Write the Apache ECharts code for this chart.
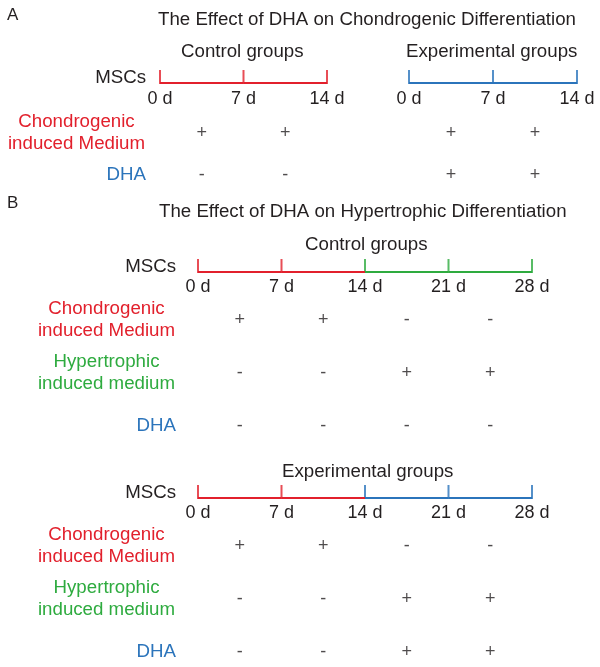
<!DOCTYPE html>
<html>
<head>
<meta charset="utf-8">
<script src="https://cdn.jsdelivr.net/npm/echarts@6/dist/echarts.min.js"></script>
<style>html,body{margin:0;padding:0;background:#fff}#chart{width:600px;height:667px}</style>
</head>
<body>
<div id="chart"></div>
<script>
// ---------- data ----------
const DAYS_A = [0, 7, 14];
const DAYS_B = [0, 7, 14, 21, 28];

// stage of each interval between ticks (drives the timeline colour)
const A_CTRL_STAGES = ['chondrogenic', 'chondrogenic'];
const A_EXP_STAGES = ['dha', 'dha'];
const B_CTRL_STAGES = ['chondrogenic', 'chondrogenic', 'hypertrophic', 'hypertrophic'];
const B_EXP_STAGES = ['chondrogenic', 'chondrogenic', 'dha', 'dha'];

const ROW_MSC = 'MSCs';
const ROW_CHONDRO = 'Chondrogenic induced Medium';
const ROW_HYPER = 'Hypertrophic induced medium';
const ROW_DHA = 'DHA';

const A_ROWS = [ROW_CHONDRO, ROW_DHA];
const B_ROWS = [ROW_CHONDRO, ROW_HYPER, ROW_DHA];

const A_CTRL_CHONDRO = ['+', '+'];
const A_CTRL_DHA = ['-', '-'];
const A_EXP_CHONDRO = ['+', '+'];
const A_EXP_DHA = ['+', '+'];

const B_CTRL_CHONDRO = ['+', '+', '-', '-'];
const B_CTRL_HYPER = ['-', '-', '+', '+'];
const B_CTRL_DHA = ['-', '-', '-', '-'];

const B_EXP_CHONDRO = ['+', '+', '-', '-'];
const B_EXP_HYPER = ['-', '-', '+', '+'];
const B_EXP_DHA = ['-', '-', '+', '+'];

const TITLE_A = 'The Effect of DHA on Chondrogenic Differentiation';
const TITLE_B = 'The Effect of DHA on Hypertrophic Differentiation';
const CONTROL = 'Control groups';
const EXPERIMENTAL = 'Experimental groups';

// ---------- styles ----------
const FONT = '"Liberation Sans", Arial, Helvetica, sans-serif';
const FS = 18.7;
const INK = '#231f20';
const STAGE_COLOR = { chondrogenic: '#e2202c', hypertrophic: '#2eab3f', dha: '#2b74bb' };

const blocks = [
  { left: 160, width: 167, lineY: 83, rowTop: 133, rowBottom: 175, margin: 14, tickMargin: 5,
    days: DAYS_A, stages: A_CTRL_STAGES, rows: A_ROWS, signs: [A_CTRL_CHONDRO, A_CTRL_DHA], labels: true },
  { left: 409, width: 168, lineY: 83, rowTop: 133, rowBottom: 175, margin: 14, tickMargin: 5,
    days: DAYS_A, stages: A_EXP_STAGES, rows: A_ROWS, signs: [A_EXP_CHONDRO, A_EXP_DHA], labels: false },
  { left: 198, width: 334, lineY: 272, rowTop: 320, rowBottom: 426, margin: 22, tickMargin: 4,
    days: DAYS_B, stages: B_CTRL_STAGES, rows: B_ROWS, signs: [B_CTRL_CHONDRO, B_CTRL_HYPER, B_CTRL_DHA], labels: true },
  { left: 198, width: 334, lineY: 498, rowTop: 546, rowBottom: 652, margin: 22, tickMargin: 4,
    days: DAYS_B, stages: B_EXP_STAGES, rows: B_ROWS, signs: [B_EXP_CHONDRO, B_EXP_HYPER, B_EXP_DHA], labels: true }
];

const rich = {
  msc: { color: INK, fontSize: FS, fontFamily: FONT, padding: [0, 0, 10, 0] },
  chondro: { color: STAGE_COLOR.chondrogenic, fontSize: FS, fontFamily: FONT, width: 139, align: 'center', lineHeight: 22 },
  hyper: { color: STAGE_COLOR.hypertrophic, fontSize: FS, fontFamily: FONT, width: 139, align: 'center', lineHeight: 22 },
  dha: { color: STAGE_COLOR.dha, fontSize: FS, fontFamily: FONT }
};
function rowLabel(v) {
  if (v === ROW_MSC) return '{msc|' + v + '}';
  if (v === ROW_CHONDRO) return '{chondro|Chondrogenic}\n{chondro|induced Medium}';
  if (v === ROW_HYPER) return '{hyper|Hypertrophic}\n{hyper|induced medium}';
  if (v === ROW_DHA) return '{dha|' + v + '}';
  return v;
}

const grid = [], xAxis = [], yAxis = [], series = [];
blocks.forEach((b) => {
  const last = b.days[b.days.length - 1];
  const gT = grid.length;
  // timeline grid
  grid.push({ left: b.left, width: b.width, top: b.lineY - 2, height: 4 });
  xAxis.push({ gridIndex: gT, type: 'value', min: b.days[0], max: last, interval: 7,
    axisLine: { show: false }, axisTick: { show: false }, splitLine: { show: false },
    axisLabel: { show: true, margin: b.tickMargin, color: INK, fontSize: 18, fontFamily: FONT,
      formatter: v => v + ' d' } });
  yAxis.push({ gridIndex: gT, type: 'category', data: [ROW_MSC], boundaryGap: true,
    axisLine: { show: false }, axisTick: { show: false }, splitLine: { show: false },
    axisLabel: { show: b.labels, margin: b.margin, formatter: rowLabel, rich: rich } });
  // timeline segments
  b.stages.forEach((st, i) => {
    series.push({ type: 'line', xAxisIndex: gT, yAxisIndex: gT, symbol: 'none', silent: true,
      lineStyle: { color: STAGE_COLOR[st], width: 2 },
      data: [[b.days[i], ROW_MSC], [b.days[i + 1], ROW_MSC]] });
  });
  // ticks
  series.push({ type: 'scatter', xAxisIndex: gT, yAxisIndex: gT, symbol: 'rect',
    symbolSize: [2, 14], symbolOffset: [0, -6], silent: true,
    data: b.days.map((d, j) => ({ value: [d, ROW_MSC],
      itemStyle: { color: STAGE_COLOR[b.stages[Math.min(j, b.stages.length - 1)]] } })) });

  // table grid
  const gR = grid.length;
  grid.push({ left: b.left, width: b.width, top: b.rowTop, height: b.rowBottom - b.rowTop });
  xAxis.push({ gridIndex: gR, type: 'value', min: b.days[0], max: last, show: false });
  yAxis.push({ gridIndex: gR, type: 'category', data: b.rows, inverse: true, boundaryGap: false,
    axisLine: { show: false }, axisTick: { show: false }, splitLine: { show: false },
    axisLabel: { show: b.labels, margin: b.margin, formatter: rowLabel, rich: rich, interval: 0 } });
  const pts = [];
  b.rows.forEach((r, ri) => {
    b.signs[ri].forEach((s, i) => {
      pts.push({ value: [(b.days[i] + b.days[i + 1]) / 2, r], sign: s });
    });
  });
  series.push({ type: 'scatter', xAxisIndex: gR, yAxisIndex: gR, symbolSize: 1, silent: true,
    itemStyle: { color: 'rgba(0,0,0,0)' },
    label: { show: true, position: 'inside', color: INK, fontSize: 18, fontFamily: FONT,
      formatter: p => p.data.sign },
    data: pts });
});

function t(text, left, top, size) {
  return { text: text, left: left, top: top, padding: 0,
    textStyle: { color: INK, fontSize: size, fontWeight: 'normal', fontFamily: FONT } };
}

const option = {
  animation: false,
  backgroundColor: '#fff',
  title: [
    t('A', 7, 6.5, 17),
    t(TITLE_A, 158, 10.7, FS),
    t(CONTROL, 181, 42.6, FS),
    t(EXPERIMENTAL, 406, 42.6, FS),
    t('B', 7, 195, 17),
    t(TITLE_B, 159, 202, FS),
    t(CONTROL, 305, 235.6, FS),
    t(EXPERIMENTAL, 282, 462.6, FS)
  ],
  grid: grid, xAxis: xAxis, yAxis: yAxis, series: series
};

const chart = echarts.init(document.getElementById('chart'), null, { renderer: 'canvas' });
chart.setOption(option);
</script>
</body>
</html>
